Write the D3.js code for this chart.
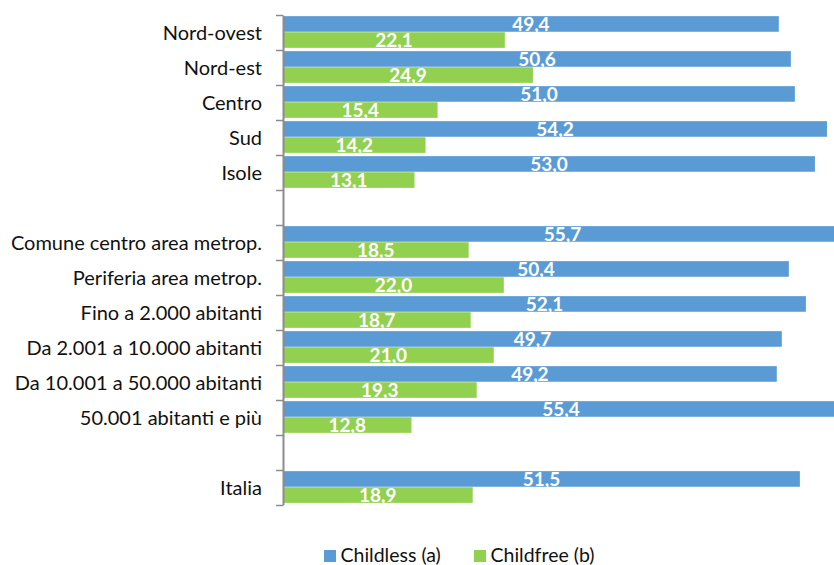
<!DOCTYPE html>
<html>
<head>
<meta charset="utf-8">
<script src="https://cdn.jsdelivr.net/npm/d3@7/dist/d3.min.js"></script>
<style>
  html, body { margin: 0; padding: 0; background: #fff; }
  svg { display: block; font-family: Lato, "Open Sans", sans-serif; }
</style>
</head>
<body>
<svg id="chart" width="834" height="565"></svg>
<script>
// Categories (null = empty spacer row)
const categories = [
    "Nord-ovest", "Nord-est", "Centro", "Sud", "Isole",
    null,
    "Comune centro area metrop.", "Periferia area metrop.", "Fino a 2.000 abitanti",
    "Da 2.001 a 10.000 abitanti", "Da 10.001 a 50.000 abitanti", "50.001 abitanti e più",
    null,
    "Italia"
];

const childless = [49.4, 50.6, 51.0, 54.2, 53.0, null, 55.7, 50.4, 52.1, 49.7, 49.2, 55.4, null, 51.5];
const childfree = [22.1, 24.9, 15.4, 14.2, 13.1, null, 18.5, 22.0, 18.7, 21.0, 19.3, 12.8, null, 18.9];

const seriesNames = ["Childless (a)", "Childfree (b)"];
const seriesColors = ["#5B9BD5", "#92D050"];

const width = 834;
const height = 565;

const svg = d3.select("#chart");

const itFormat = d3.formatLocale({
    decimal: ",", thousands: ".", grouping: [3], currency: ["", "€"]
}).format(".1f");

// Scales
const x = d3.scaleLinear().domain([0, 55]).range([283, 835]);
const rows = d3.range(categories.length);
const y = d3.scaleBand().domain(rows).range([15, 505]);
const ySub = d3.scaleBand().domain([0, 1]).range([0.5, y.bandwidth() - 1.5]).paddingOuter(0.04).paddingInner(0.03);

// Bars
const series = [childless, childfree];
series.forEach((values, s) => {
    const rowsWithData = rows.filter(i => values[i] != null);

    svg.append("g")
        .selectAll("rect")
        .data(rowsWithData)
        .join("rect")
        .attr("x", x(0))
        .attr("y", i => y(i) + ySub(s))
        .attr("width", i => x(values[i]) - x(0))
        .attr("height", ySub.bandwidth())
        .attr("fill", seriesColors[s]);

    // Value labels centred on the bar
    svg.append("g")
        .selectAll("text")
        .data(rowsWithData)
        .join("text")
        .attr("x", i => (x(0) + x(values[i])) / 2)
        .attr("y", i => y(i) + ySub(s) + ySub.bandwidth() - 0.5)
        .attr("text-anchor", "middle")
        .attr("fill", "#fff")
        .attr("font-weight", "bold")
        .attr("font-size", 19)
        .text(i => itFormat(values[i]));
});

// Vertical axis with ticks at the row boundaries
const yEdge = d3.scaleLinear().domain([0, categories.length]).range([15, 505]);
const axis = svg.append("g")
    .attr("transform", `translate(${x(0)},0)`)
    .call(d3.axisLeft(yEdge)
        .tickValues(d3.range(categories.length + 1))
        .tickFormat("")
        .tickSizeInner(7)
        .tickSizeOuter(0));
axis.select(".domain").attr("stroke", "#8c8c8c").attr("stroke-width", 2);
axis.selectAll(".tick line").attr("stroke", "#8c8c8c").attr("stroke-width", 1.5);

// Category labels
svg.append("g")
    .selectAll("text")
    .data(rows.filter(i => categories[i]))
    .join("text")
    .attr("x", 262)
    .attr("y", i => y(i) + y.bandwidth() / 2)
    .attr("dy", "0.35em")
    .attr("text-anchor", "end")
    .attr("font-size", 20)
    .attr("fill", "#111")
    .text(i => categories[i]);

// Legend
const legend = svg.append("g").attr("transform", "translate(324,550)");
const legendX = [0, 150];
seriesNames.forEach((name, s) => {
    const item = legend.append("g").attr("transform", `translate(${legendX[s]},0)`);
    item.append("rect")
        .attr("width", 12)
        .attr("height", 12)
        .attr("fill", seriesColors[s]);
    item.append("text")
        .attr("x", 16.5)
        .attr("y", 11.5)
        .attr("font-size", 19.5)
        .attr("fill", "#111")
        .text(name);
});
</script>
</body>
</html>
